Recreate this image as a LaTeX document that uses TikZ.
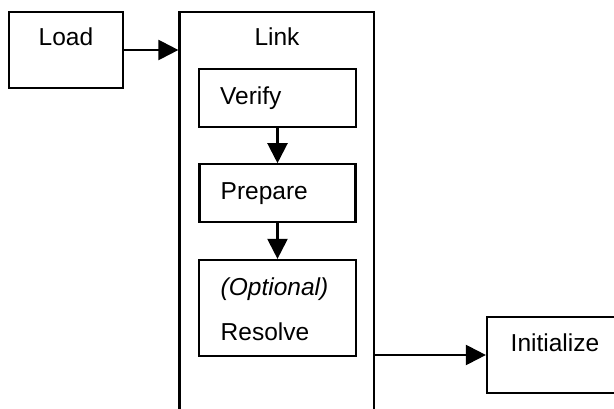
\documentclass[tikz,border=0pt]{standalone}
\usepackage{fontspec}
\setmainfont{Liberation Sans}
\usetikzlibrary{arrows.meta}
\begin{document}
\begin{tikzpicture}[x=1pt,y=-1pt,
  box/.style={draw, line width=2.2pt, inner sep=0pt},
  lbl/.style={inner sep=0pt, font=\fontsize{24.5}{29}\selectfont},
  arr/.style={line width=2.2pt, -{Triangle[length=20pt,width=20pt]}}]
  \useasboundingbox (0,0) rectangle (614,409);
  \clip (0,0) rectangle (614,409);
  \fill[white] (0,0) rectangle (614,409);

  % stage boxes
  \node[box, minimum width=114pt, minimum height=76pt] (load) at (66,50) {};
  \node[box, minimum width=194.5pt, minimum height=428pt] (link) at (276.75,226) {};
  \node[box, minimum width=156.4pt, minimum height=57.7pt] (verify) at (277.5,97.85) {};
  \node[box, minimum width=156pt, minimum height=57.4pt] (prepare) at (277.5,193) {};
  \node[box, minimum width=156.5pt, minimum height=96pt] (resolve) at (277.5,308) {};
  \node[box, minimum width=163pt, minimum height=76.3pt] (init) at (568.5,355) {};

  % labels
  \node[lbl, anchor=base] (loadt) at (66,46) {Load};
  \node[lbl, anchor=base] (linkt) at (277,46) {Link};
  \node[lbl, anchor=base west] (verifyt) at (220,105) {Verify};
  \node[lbl, anchor=base west] (preparet) at (220.5,199.5) {Prepare};
  \node[lbl, anchor=base west] (optt) at (220.5,295) {\itshape (Optional)};
  \node[lbl, anchor=base west] (resolvet) at (220.5,340) {Resolve};
  \node[lbl, anchor=base west] (initt) at (510.5,351.5) {Initialize};

  % connectors
  \draw[arr] (load.east) -- (load.east -| link.west);
  \draw[arr] (verify.south) -- (prepare.north);
  \draw[arr] (prepare.south) -- (resolve.north);
  \draw[arr] (init.west -| link.east) -- (init.west);
\end{tikzpicture}
\end{document}
